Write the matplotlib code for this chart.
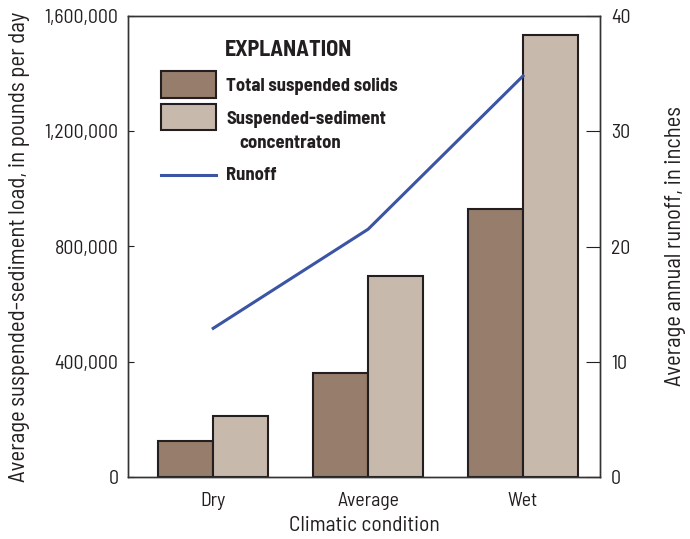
import matplotlib
matplotlib.use("Agg")
import matplotlib.pyplot as plt
import numpy as np
from matplotlib.ticker import FuncFormatter
from matplotlib.patches import Rectangle
from matplotlib.lines import Line2D

plt.rcParams['font.family'] = ['Barlow Semi Condensed', 'DejaVu Sans']

conditions = ["Dry", "Average", "Wet"]
tss = [125000, 362000, 930000]          # total suspended solids, lb/day
ssc = [210000, 698000, 1534000]         # suspended-sediment concentration, lb/day
runoff = [12.9, 21.5, 34.8]             # inches

c_tss = "#977d6b"
c_ssc = "#c8b9ad"
c_line = "#3b54a4"
c_edge = "#231f20"
c_text = "#231f20"

W, H = 690, 539
fig = plt.figure(figsize=(W/100, H/100), dpi=100)
ax = fig.add_axes([128/W, 1 - 477/H, 472/W, 461/H])
x = np.arange(len(conditions))
w = 0.355

ax.bar(x - w/2, tss, w, color=c_tss, edgecolor=c_edge, linewidth=1.5)
ax.bar(x + w/2, ssc, w, color=c_ssc, edgecolor=c_edge, linewidth=1.5)
ax.set_xlim(-0.55, 2.497)
ax.set_ylim(0, 1600000)
ax.set_yticks([0, 400000, 800000, 1200000, 1600000])
ax.yaxis.set_major_formatter(FuncFormatter(lambda v, p: f"{int(v):,}"))
ax.set_xticks(x)
ax.set_xticklabels(conditions)
ax.tick_params(axis='y', direction='in', length=4, labelsize=14.2, pad=7, colors=c_text)
ax.tick_params(axis='x', length=0, labelsize=14.2, pad=11, colors=c_text)
ax.set_xlabel("Climatic condition", fontsize=15.5, color=c_text, labelpad=4)
ax.set_ylabel("Average suspended-sediment load, in pounds per day", fontsize=16.4,
              color=c_text, labelpad=10)
for s in ax.spines.values():
    s.set_color("#333333")
    s.set_linewidth(1.0)

ax2 = ax.twinx()
ax2.plot(x, runoff, color=c_line, linewidth=2.2)
ax2.set_ylim(0, 40)
ax2.set_yticks([0, 10, 20, 30, 40])
ax2.tick_params(axis='y', direction='in', length=10, labelsize=14.2, pad=8, colors=c_text)
ax2.set_ylabel("Average annual runoff, in inches", fontsize=16.2, color=c_text, labelpad=25)
for s in ax2.spines.values():
    s.set_color("#333333")
    s.set_linewidth(1.0)


# explanation box, placed in figure pixels measured from the top-left
def fx(px):
    return px / W


def fy(py):
    return 1 - py / H


fig.text(fx(225), fy(50), "EXPLANATION", fontsize=16, fontweight='bold',
         color=c_text, va='center', ha='left')
fig.add_artist(Rectangle((fx(161), fy(98)), 55/W, 27/H, transform=fig.transFigure,
                         facecolor=c_tss, edgecolor=c_edge, linewidth=1.5))
fig.text(fx(226), fy(86), "Total suspended solids", fontsize=13.4, fontweight='bold',
         color=c_text, va='center', ha='left')
fig.add_artist(Rectangle((fx(161), fy(130)), 55/W, 26/H, transform=fig.transFigure,
                         facecolor=c_ssc, edgecolor=c_edge, linewidth=1.5))
fig.text(fx(226), fy(119), "Suspended-sediment", fontsize=13.4, fontweight='bold',
         color=c_text, va='center', ha='left')
fig.text(fx(239), fy(143), "concentraton", fontsize=13.4, fontweight='bold',
         color=c_text, va='center', ha='left')
fig.add_artist(Line2D([fx(161), fx(216)], [fy(175), fy(175)], transform=fig.transFigure,
                      color=c_line, linewidth=2.2))
fig.text(fx(226), fy(175), "Runoff", fontsize=13.4, fontweight='bold',
         color=c_text, va='center', ha='left')

fig.savefig("out.png", dpi=100)
